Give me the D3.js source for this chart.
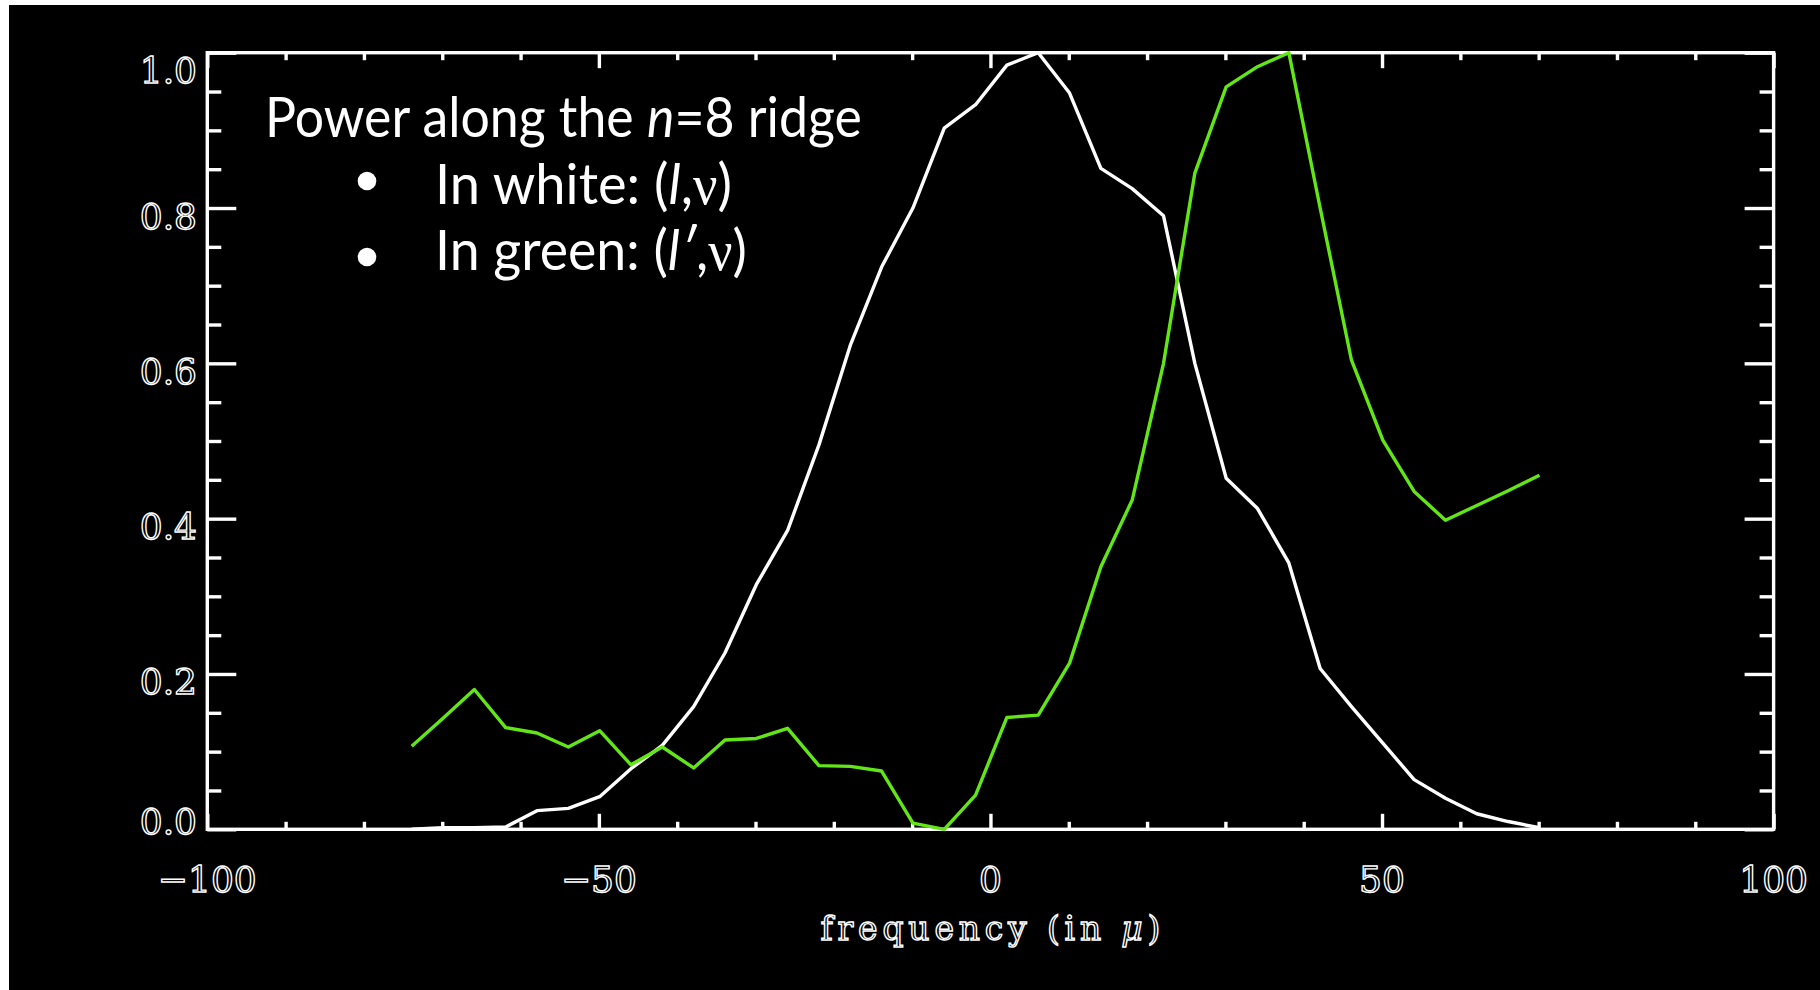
<!DOCTYPE html>
<html>
<head>
<meta charset="utf-8">
<script src="https://cdn.jsdelivr.net/npm/d3@7"></script>
<style>
  html, body { margin: 0; padding: 0; background: #ffffff; }
  svg { display: block; }
</style>
</head>
<body>
<svg id="chart" width="1820" height="990"></svg>
<script>
// Frequency grid (in μHz) shared by both ridge profiles
const frequency = [
  -73.9, -69.9, -65.9, -61.9, -57.9, -53.9, -49.9, -45.9, -41.9, -37.9,
  -33.9, -29.9, -25.9, -21.9, -17.9, -13.9, -9.9, -5.9, -1.9, 2.1,
  6.1, 10.1, 14.1, 18.1, 22.1, 26.1, 30.1, 34.1, 38.1, 42.1,
  46.1, 50.1, 54.1, 58.1, 62.1, 66.1, 70.1
];

// Normalised power along the n=8 ridge, (l, ν) — white curve
const powerLNu = [
  0.000, 0.002, 0.002, 0.003, 0.024, 0.027, 0.042, 0.078, 0.108, 0.158,
  0.227, 0.315, 0.385, 0.495, 0.623, 0.724, 0.800, 0.903, 0.933, 0.984,
  1.000, 0.948, 0.851, 0.825, 0.790, 0.600, 0.452, 0.413, 0.343, 0.207,
  0.158, 0.111, 0.064, 0.040, 0.020, 0.010, 0.002
];

// Normalised power along the n=8 ridge, (l', ν) — green curve
const powerLPrimeNu = [
  0.107, 0.143, 0.180, 0.131, 0.124, 0.106, 0.127, 0.083, 0.106, 0.079,
  0.115, 0.117, 0.130, 0.082, 0.081, 0.075, 0.008, 0.000, 0.044, 0.144,
  0.147, 0.214, 0.338, 0.424, 0.600, 0.845, 0.956, 0.982, 1.000, 0.800,
  0.604, 0.501, 0.435, 0.398, 0.417, 0.436, 0.456
];

// Axis ticks and labels
const xMajorTicks = [-100, -50, 0, 50, 100];
const xMajorLabels = ["\u2212100", "\u221250", "0", "50", "100"];
const xMinorTicks = [-90, -80, -70, -60, -40, -30, -20, -10, 10, 20, 30, 40, 60, 70, 80, 90];
const yMajorTicks = [0.0, 0.2, 0.4, 0.6, 0.8, 1.0];
const yMajorLabels = ["0.0", "0.2", "0.4", "0.6", "0.8", "1.0"];
const yMinorTicks = [0.05, 0.10, 0.15, 0.25, 0.30, 0.35, 0.45, 0.50, 0.55, 0.65, 0.70, 0.75, 0.85, 0.90, 0.95];
const xTitle = "frequency (in ";
const xTitleUnit = "\u03bc";

const svg = d3.select("#chart");

// dark slide panel
svg.append("rect")
  .attr("x", 9).attr("y", 5)
  .attr("width", 1811).attr("height", 985)
  .attr("fill", "#000000");

const box = { left: 207.3, right: 1773.6, top: 52.7, bottom: 829.3 };
const x = d3.scaleLinear().domain([-100, 100]).range([box.left, box.right]);
const y = d3.scaleLinear().domain([0, 1]).range([box.bottom, box.top]);

const plotW = box.right - box.left;
const plotH = box.bottom - box.top;
const xMajorLen = 15.5, xMinorLen = 7.5;   // inward tick lengths on the x axes
const yMajorLen = 29, yMinorLen = 14;      // inward tick lengths on the y axes
const axisWidth = 3.4;

function styleTicks(g) {
  g.select(".domain").remove();
  g.selectAll(".tick line").attr("stroke", "#ffffff").attr("stroke-width", axisWidth);
  g.selectAll(".tick text").remove();
}

// bottom and top ticks (pointing into the plot)
svg.append("g").attr("transform", `translate(0,${box.bottom})`)
  .call(d3.axisBottom(x).tickValues(xMajorTicks).tickSizeInner(-xMajorLen).tickSizeOuter(0)).call(styleTicks);
svg.append("g").attr("transform", `translate(0,${box.bottom})`)
  .call(d3.axisBottom(x).tickValues(xMinorTicks).tickSizeInner(-xMinorLen).tickSizeOuter(0)).call(styleTicks);
svg.append("g").attr("transform", `translate(0,${box.top})`)
  .call(d3.axisTop(x).tickValues(xMajorTicks).tickSizeInner(-xMajorLen).tickSizeOuter(0)).call(styleTicks);
svg.append("g").attr("transform", `translate(0,${box.top})`)
  .call(d3.axisTop(x).tickValues(xMinorTicks).tickSizeInner(-xMinorLen).tickSizeOuter(0)).call(styleTicks);

// left and right ticks
svg.append("g").attr("transform", `translate(${box.left},0)`)
  .call(d3.axisLeft(y).tickValues(yMajorTicks).tickSizeInner(-yMajorLen).tickSizeOuter(0)).call(styleTicks);
svg.append("g").attr("transform", `translate(${box.left},0)`)
  .call(d3.axisLeft(y).tickValues(yMinorTicks).tickSizeInner(-yMinorLen).tickSizeOuter(0)).call(styleTicks);
svg.append("g").attr("transform", `translate(${box.right},0)`)
  .call(d3.axisRight(y).tickValues(yMajorTicks).tickSizeInner(-yMajorLen).tickSizeOuter(0)).call(styleTicks);
svg.append("g").attr("transform", `translate(${box.right},0)`)
  .call(d3.axisRight(y).tickValues(yMinorTicks).tickSizeInner(-yMinorLen).tickSizeOuter(0)).call(styleTicks);

// plot frame
svg.append("rect")
  .attr("x", box.left).attr("y", box.top)
  .attr("width", plotW).attr("height", plotH)
  .attr("fill", "none").attr("stroke", "#ffffff").attr("stroke-width", axisWidth);

// hollow vector-style tick labels
const labelFont = "'DejaVu Serif', serif";
function hollow(sel) {
  sel.attr("fill", "#000000").attr("stroke", "#ffffff").attr("stroke-width", 1.4)
     .attr("font-family", labelFont);
}

svg.append("g").selectAll("text")
  .data(xMajorTicks)
  .join("text")
  .attr("x", d => x(d))
  .attr("y", 891.8)
  .attr("text-anchor", "middle")
  .attr("font-size", 36)
  .text((d, i) => xMajorLabels[i])
  .call(hollow);

// y labels sit slightly below their ticks; the end labels are pulled inside the frame
function yLabelCentre(v) {
  if (v === 0) return y(v) - 8.7;
  if (v === 1) return y(v) + 17;
  return y(v) + 7.5;
}
svg.append("g").selectAll("text")
  .data(yMajorTicks)
  .join("text")
  .attr("x", 197)
  .attr("y", d => yLabelCentre(d) + 13)
  .attr("text-anchor", "end")
  .attr("font-size", 36)
  .text((d, i) => yMajorLabels[i])
  .call(hollow);

// x axis title
const title = svg.append("text")
  .attr("x", x(0))
  .attr("y", 940)
  .attr("text-anchor", "middle")
  .attr("font-size", 33)
  .attr("textLength", 340)
  .attr("lengthAdjust", "spacing")
  .call(hollow);
title.append("tspan").text(xTitle);
title.append("tspan").attr("font-style", "italic").text(xTitleUnit);
title.append("tspan").text(")");

// profiles
const line = d3.line()
  .x((d, i) => x(frequency[i]))
  .y(d => y(d));

svg.append("path")
  .datum(powerLNu)
  .attr("d", line)
  .attr("fill", "none")
  .attr("stroke", "#ffffff")
  .attr("stroke-width", 3.4)
  .attr("stroke-linejoin", "round");

svg.append("path")
  .datum(powerLPrimeNu)
  .attr("d", line)
  .attr("fill", "none")
  .attr("stroke", "#62e617")
  .attr("stroke-width", 3.4)
  .attr("stroke-linejoin", "round");

// annotation block: each line is condensed horizontally to its set width
const noteFont = "Lato, 'Open Sans', sans-serif";
const greek = "'Liberation Serif', 'DejaVu Serif', serif";

function noteLine(px, py, width, parts) {
  const g = svg.append("g").attr("transform", `translate(${px},${py})`);
  const t = g.append("text")
    .attr("x", 0).attr("y", 0)
    .attr("font-family", noteFont).attr("font-size", 56).attr("fill", "#ffffff");
  parts.forEach(([s, kind]) => {
    const sp = t.append("tspan").text(s);
    if (kind === "italic") sp.attr("font-style", "italic");
    if (kind === "greek") sp.attr("font-family", greek);
  });
  const natural = t.node().getComputedTextLength();
  if (natural > 0) g.attr("transform", `translate(${px},${py}) scale(${width / natural},1)`);
}

noteLine(265, 137, 597, [["Power along the ", null], ["n", "italic"], ["=8 ridge", null]]);

const bullets = [
  { cy: 181, base: 203.5, width: 297,
    parts: [["In white: (", null], ["l", "italic"], [",", null], ["\u03bd", "greek"], [")", null]] },
  { cy: 257, base: 270, width: 312,
    parts: [["In green: (", null], ["l\u2032", "italic"], [",", null], ["\u03bd", "greek"], [")", null]] }
];

bullets.forEach(b => {
  svg.append("circle").attr("cx", 367).attr("cy", b.cy).attr("r", 9.3).attr("fill", "#ffffff");
  noteLine(435, b.base, b.width, b.parts);
});
</script>
</body>
</html>
